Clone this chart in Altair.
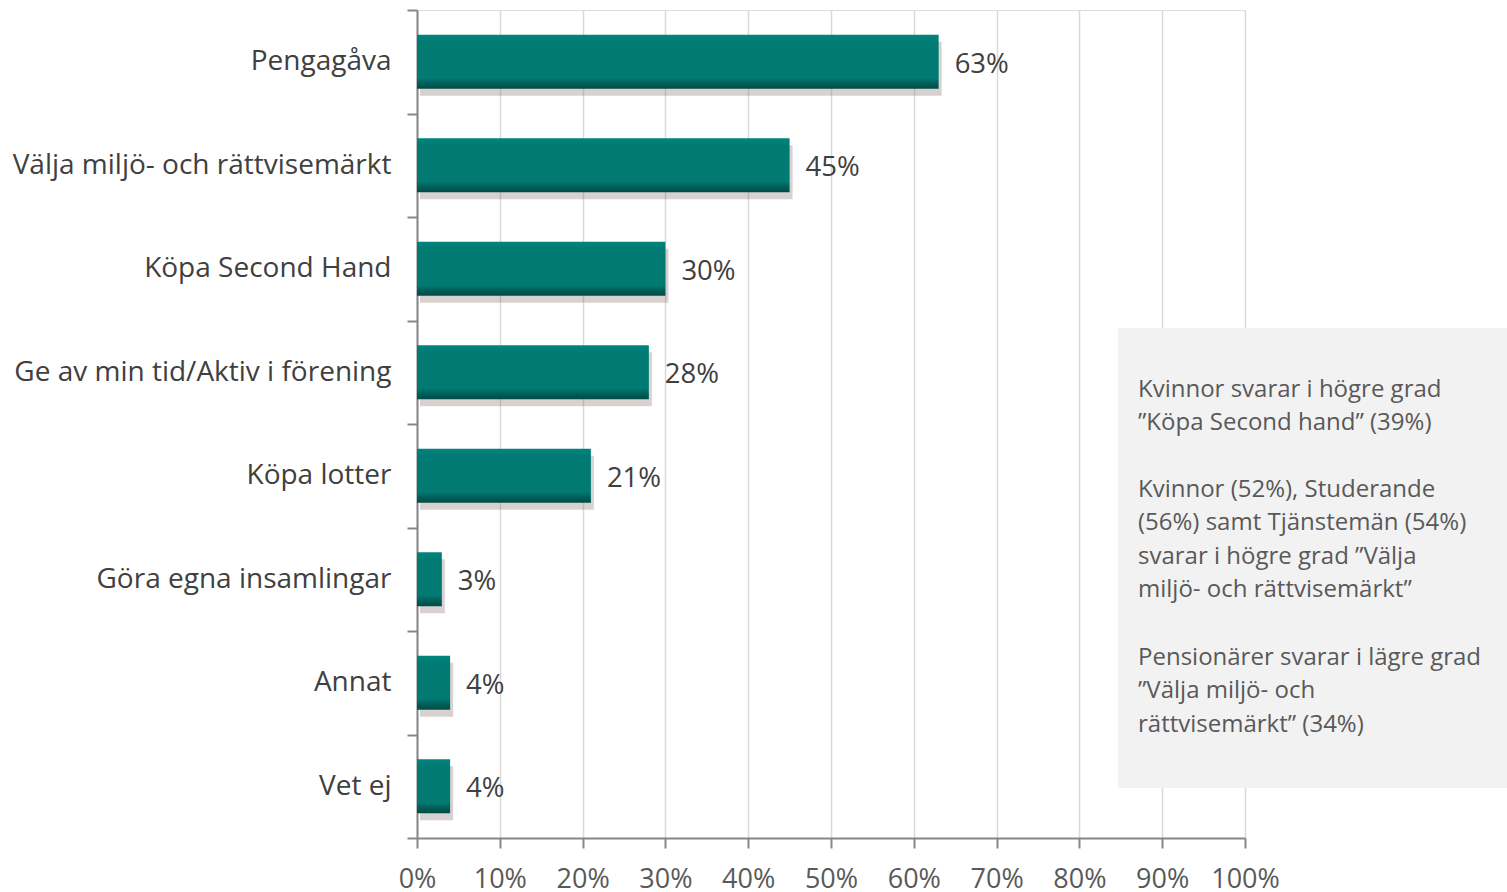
import altair as alt
import pandas as pd

categories = ["Pengagåva", "Välja miljö- och rättvisemärkt", "Köpa Second Hand",
              "Ge av min tid/Aktiv i förening", "Köpa lotter", "Göra egna insamlingar",
              "Annat", "Vet ej"]
values = [0.63, 0.45, 0.30, 0.28, 0.21, 0.03, 0.04, 0.04]
labels = ["63%", "45%", "30%", "28%", "21%", "3%", "4%", "4%"]
tick_values = [i / 10 for i in range(11)]

note_p1 = ["Kvinnor svarar i högre grad", "”Köpa Second hand” (39%)"]
note_p2 = ["Kvinnor (52%), Studerande", "(56%) samt Tjänstemän (54%)",
           "svarar i högre grad ”Välja", "miljö- och rättvisemärkt”"]
note_p3 = ["Pensionärer svarar i lägre grad", "”Välja miljö- och",
           "rättvisemärkt” (34%)"]

df = pd.DataFrame({"cat": categories, "val": values, "lab": labels})

FONT = "Open Sans"
TXT = "#404040"

xscale = alt.Scale(domain=[0, 1])
yscale = alt.Scale(domain=categories, paddingInner=0, paddingOuter=0)

x = alt.X("val:Q", scale=xscale,
          axis=alt.Axis(values=tick_values, format=".0%", title=None, grid=True,
                        gridColor="#d9d9d9", gridWidth=1.5, domainColor="#868686",
                        domainWidth=2, tickColor="#868686", tickWidth=2, tickSize=10,
                        labelFont=FONT, labelFontSize=27, labelColor="#595959",
                        labelPadding=18, labelOverlap=False, labelFlush=False))
y = alt.Y("cat:N", scale=yscale, sort=categories,
          axis=alt.Axis(title=None, tickBand="extent", domainColor="#868686",
                        domainWidth=2, tickColor="#868686", tickWidth=2, tickSize=10,
                        labelFont=FONT, labelFontSize=28, labelColor=TXT,
                        labelPadding=16, labelLimit=600))

base = alt.Chart(df)

shadow = base.mark_bar(size=54, color="#7a6a64", opacity=0.3, yOffset=7, xOffset=3).encode(
    x=x, y=y)

bars = base.mark_bar(
    size=54,
    color=alt.Gradient(
        gradient="linear",
        stops=[alt.GradientStop(color="#00857d", offset=0),
               alt.GradientStop(color="#007a73", offset=0.15),
               alt.GradientStop(color="#007a73", offset=0.8),
               alt.GradientStop(color="#005e58", offset=0.9),
               alt.GradientStop(color="#004b46", offset=1)],
        x1=0, x2=0, y1=0, y2=1),
).encode(x=x, y=y)

text = base.mark_text(align="left", baseline="middle", dx=16, dy=3, font=FONT,
                      fontSize=27.5, color=TXT).encode(
    x=alt.X("val:Q", scale=xscale), y=alt.Y("cat:N", scale=yscale, sort=categories),
    text="lab:N")

box = alt.Chart(pd.DataFrame({"a": [0]})).mark_rect(color="#f2f2f2").encode(
    x=alt.value(701), x2=alt.value(1095), y=alt.value(318), y2=alt.value(778))


def para(lines, ypix):
    return alt.Chart(pd.DataFrame({"t": [lines]})).mark_text(
        align="left", baseline="middle", font=FONT, fontSize=24, color="#595959",
        lineHeight=33.4).encode(x=alt.value(721), y=alt.value(ypix), text="t")


chart = alt.layer(shadow, bars, text, box,
                  para(note_p1, 380), para(note_p2, 480), para(note_p3, 648)).properties(
    width=828, height=828,
    autosize=alt.AutoSizeParams(type="none"),
    padding={"left": 417, "top": 10, "right": 262, "bottom": 54},
).configure_view(stroke=None).configure(background="white")

chart.save("out.html", embed_options={"renderer": "svg", "actions": False})
